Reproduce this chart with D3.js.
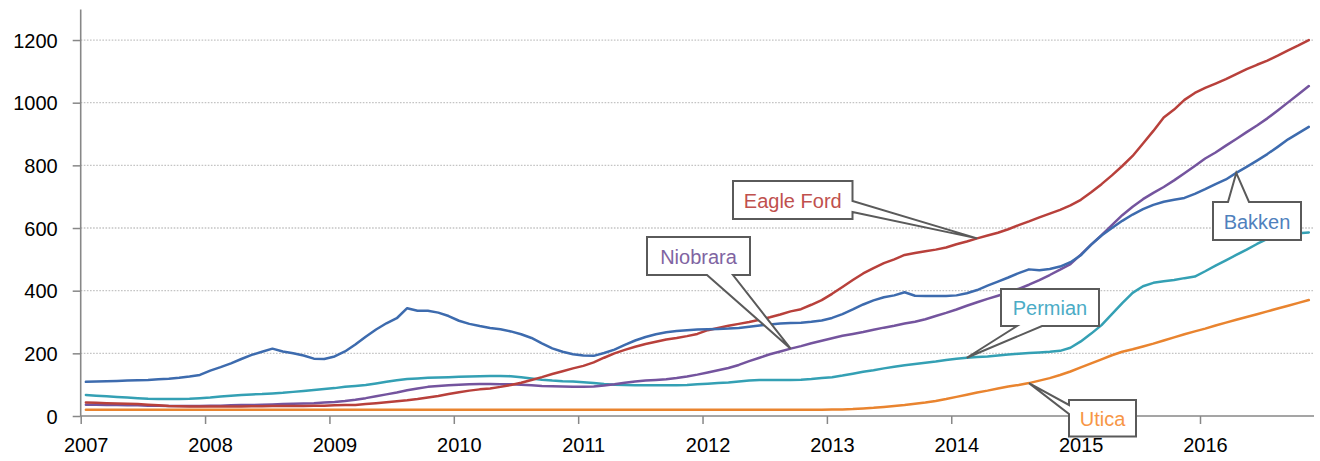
<!DOCTYPE html>
<html>
<head>
<meta charset="utf-8">
<script src="https://cdn.jsdelivr.net/npm/d3@7"></script>
<style>
  html, body { margin: 0; padding: 0; background: #fff; }
  svg { display: block; }
  text { font-family: "Liberation Sans", Arial, sans-serif; }
</style>
</head>
<body>
<svg id="chart" width="1320" height="461"></svg>
<script>
// ---- Data (monthly, Jan 2007 – Nov 2016) ----
const startYear = 2007;
const yearTicks = [2007, 2008, 2009, 2010, 2011, 2012, 2013, 2014, 2015, 2016];
const valueTicks = [0, 200, 400, 600, 800, 1000, 1200];

const bakken = [109,110,111,112,113,114,115,117,119,122,126,131,
  145,156,168,182,195,205,215,206,200,193,183,182,
  190,206,228,253,276,296,312,344,336,336,330,319,
  304,294,287,281,277,270,261,249,232,216,205,197,
  193,192,201,212,227,241,252,261,267,271,274,276,
  277,278,279,281,285,289,292,295,297,298,301,305,
  313,325,340,356,369,379,385,395,384,383,383,383,
  385,392,402,416,429,442,456,468,465,469,477,491,
  513,547,576,600,623,643,660,674,684,690,696,709,
  724,740,755,776,795,815,836,859,883,903,923];

const eagleFord = [43,42,41,40,39,38,36,34,32,31,30,30,
  30,30,30,30,31,31,32,32,32,32,33,33,
  34,35,35,38,41,44,47,50,54,59,64,70,
  76,81,85,88,93,99,106,115,124,134,143,152,
  160,171,186,200,211,221,230,237,244,249,255,262,
  274,281,288,294,300,307,315,324,334,341,355,370,
  390,412,434,455,472,488,500,514,520,526,531,538,
  548,557,567,576,585,596,609,621,634,646,658,672,
  690,714,740,768,798,830,870,910,953,978,1009,1031,
  1047,1061,1075,1091,1107,1121,1134,1150,1167,1183,1200];

const niobrara = [36,36,35,35,34,34,33,33,32,32,32,32,
  33,33,34,35,35,36,37,38,39,40,41,43,
  45,48,52,57,63,69,75,82,88,93,96,98,
  100,101,102,102,101,101,100,98,96,95,94,93,
  93,94,97,101,106,110,113,115,117,121,126,132,
  139,146,153,163,175,186,197,206,215,223,232,240,
  248,256,262,268,275,282,288,295,301,309,319,329,
  340,352,363,374,384,394,406,419,434,450,467,485,
  515,547,577,609,641,668,692,712,731,752,775,798,
  822,841,863,884,906,927,950,975,1001,1027,1053];

const permian = [67,65,63,61,59,57,55,54,54,54,55,57,
  59,62,65,67,69,70,72,74,77,80,83,86,
  89,93,96,99,104,109,114,118,120,122,123,124,
  125,126,127,128,128,127,124,120,116,113,111,110,
  108,105,102,100,99,98,98,98,98,98,99,101,
  103,105,107,110,113,115,115,115,115,116,118,121,
  124,129,135,141,146,152,157,162,166,170,174,179,
  183,186,188,190,193,196,199,201,203,205,208,218,
  238,263,290,325,360,393,414,425,430,434,440,445,
  462,480,497,514,531,549,565,576,580,583,586];

const utica = [20,20,20,20,20,20,20,20,20,20,20,20,
  20,20,20,20,20,20,20,20,20,20,20,20,
  20,20,20,20,20,20,20,20,20,20,20,20,
  20,20,20,20,20,20,20,20,20,20,20,20,
  20,20,20,20,20,20,20,20,20,20,20,20,
  20,20,20,20,20,20,20,20,20,20,20,20,
  21,21,22,24,26,29,32,35,39,43,48,54,
  61,68,75,81,88,94,99,105,113,121,131,142,
  155,168,181,194,205,213,222,231,241,251,261,270,
  279,289,298,307,316,325,334,343,352,361,370];

const seriesNames = ["Utica", "Permian", "Niobrara", "Eagle Ford", "Bakken"];
const seriesValues = [utica, permian, niobrara, eagleFord, bakken];
const lineColors = ["#E9842F", "#34A0B4", "#74549E", "#B8403B", "#3D6BAE"];
const textColors = ["#F79646", "#4BACC6", "#8064A2", "#C0504D", "#4F81BD"];
// callout tips: month index on each series
const calloutIndex = [91, 85, 68, 86, 111];

// ---- Layout ----
const svg = d3.select("#chart");
const x0 = 80.7, x1 = 1314, yBottom = 416, yTop = 8.7;
const x = d3.scaleLinear().domain([startYear, 2016 + 11 / 12]).range([x0, x1]);
const y = d3.scaleLinear().domain([0, 1300]).range([yBottom, yTop]);
const monthX = i => x(startYear + (i + 0.5) / 12);

// gridlines
svg.append("g").selectAll("line")
  .data(valueTicks.filter(v => v > 0))
  .join("line")
  .attr("x1", x0).attr("x2", x1)
  .attr("y1", d => y(d)).attr("y2", d => y(d))
  .attr("stroke", "#c4c4c4").attr("stroke-width", 1.3)
  .attr("stroke-dasharray", "1.6,1.5");

// series lines
const line = d3.line().x((d, i) => monthX(i)).y(d => y(d));
svg.append("g").selectAll("path")
  .data(seriesValues)
  .join("path")
  .attr("d", d => line(d))
  .attr("fill", "none")
  .attr("stroke", (d, i) => lineColors[i])
  .attr("stroke-width", 2.5)
  .attr("stroke-linejoin", "round")
  .attr("stroke-linecap", "round");

// axes
const axisColor = "#878787";
const yAxis = svg.append("g").attr("transform", `translate(${x0},0)`)
  .call(d3.axisLeft(y).tickValues(valueTicks).tickSize(8).tickPadding(15).tickFormat(d3.format("d")));
const xAxis = svg.append("g").attr("transform", `translate(0,${yBottom})`)
  .call(d3.axisBottom(x).tickValues(yearTicks).tickSize(8).tickPadding(14).tickFormat(d3.format("d")));
[yAxis, xAxis].forEach(g => {
  g.select(".domain").remove();
  g.selectAll(".tick line").attr("stroke", axisColor).attr("stroke-width", 1.5);
  g.selectAll(".tick text").attr("fill", "#000").style("font-size", "20px")
    .style("font-family", '"Liberation Sans", Arial, sans-serif');
});
xAxis.selectAll(".tick text").attr("dx", 5);
yAxis.selectAll(".tick text").attr("dy", "0.36em");
svg.append("line").attr("x1", x0).attr("x2", x0).attr("y1", 9.5).attr("y2", yBottom)
  .attr("stroke", axisColor).attr("stroke-width", 1.6);
svg.append("line").attr("x1", x0).attr("x2", x1).attr("y1", yBottom).attr("y2", yBottom)
  .attr("stroke", axisColor).attr("stroke-width", 1.6);

// callouts (box in pixels; wedge base on one side; tip on the series)
const boxes = {
  "Eagle Ford": { b: [733, 181, 852.5, 219], side: "right", base: [201, 212] },
  "Niobrara":   { b: [647, 237, 750, 275], side: "bottom", base: [707, 733] },
  "Permian":    { b: [1001, 289, 1099, 326], side: "bottom", base: [1017, 1042] },
  "Bakken":     { b: [1213, 202, 1301, 240], side: "top", base: [1228, 1249] },
  "Utica":      { b: [1069, 400, 1136, 436.5], side: "left", base: [405, 414] }
};
function calloutPath(c, tx, ty) {
  const [l, t, r, b] = c.b, [p, q] = c.base;
  const T = `L${tx},${ty}`;
  let s = `M${l},${t}`;
  if (c.side === "top") s += `L${p},${t}${T}L${q},${t}`;
  s += `L${r},${t}`;
  if (c.side === "right") s += `L${r},${p}${T}L${r},${q}`;
  s += `L${r},${b}`;
  if (c.side === "bottom") s += `L${q},${b}${T}L${p},${b}`;
  s += `L${l},${b}`;
  if (c.side === "left") s += `L${l},${q}${T}L${l},${p}`;
  return s + "Z";
}
const callouts = svg.append("g");
seriesNames.forEach((name, k) => {
  const c = boxes[name];
  const idx = calloutIndex[k];
  const tx = monthX(idx), ty = y(seriesValues[k][idx]);
  callouts.append("path").attr("d", calloutPath(c, tx, ty))
    .attr("fill", "#fff").attr("stroke", "#5a5a5a").attr("stroke-width", 2)
    .attr("stroke-linejoin", "miter");
  callouts.append("text")
    .attr("x", (c.b[0] + c.b[2]) / 2)
    .attr("y", (c.b[1] + c.b[3]) / 2 + 7.5)
    .attr("text-anchor", "middle")
    .attr("fill", textColors[k])
    .style("font-size", "20px")
    .text(name);
});
</script>
</body>
</html>
